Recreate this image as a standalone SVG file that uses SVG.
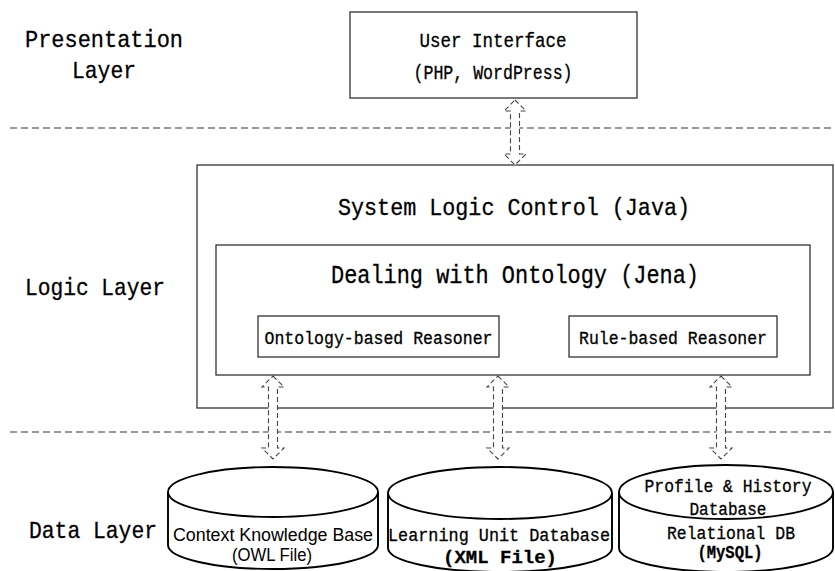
<svg xmlns="http://www.w3.org/2000/svg" width="835" height="571" viewBox="0 0 835 571">
<style>
.box{fill:#fff;stroke:#333;stroke-width:1.3}
.sep{stroke:#333;stroke-width:1.2;stroke-dasharray:7,4;fill:none}
.arr{fill:#fff;stroke:#444;stroke-width:1.1;stroke-dasharray:5,3}
.cyl{fill:#fff;stroke:#000;stroke-width:1.9}
.t{font-family:"Liberation Mono","DejaVu Sans Mono",monospace;fill:#000;stroke:#000;stroke-width:0.3;text-anchor:middle}
.s{font-family:"Liberation Sans",Arial,sans-serif;fill:#000;text-anchor:middle}
</style>
<rect width="835" height="571" fill="#fff"/>
<g id="separators">
<line class="sep" x1="10" y1="128" x2="835" y2="128"/>
<line class="sep" x1="10" y1="432" x2="835" y2="432"/>
</g>
<g id="layer-labels">
<text class="t" x="104" y="47" font-size="24" textLength="158" lengthAdjust="spacingAndGlyphs">Presentation</text>
<text class="t" x="104" y="78" font-size="24" textLength="64" lengthAdjust="spacingAndGlyphs">Layer</text>
<text class="t" x="95" y="295" font-size="24" textLength="140" lengthAdjust="spacingAndGlyphs">Logic Layer</text>
<text class="t" x="93" y="538" font-size="24" textLength="128" lengthAdjust="spacingAndGlyphs">Data Layer</text>
</g>
<g id="user-interface">
<rect class="box" x="350" y="12" width="287" height="86"/>
<text class="t" x="493" y="47" font-size="20" textLength="147" lengthAdjust="spacingAndGlyphs">User Interface</text>
<text class="t" x="493" y="79" font-size="20" textLength="159" lengthAdjust="spacingAndGlyphs">(PHP, WordPress)</text>
</g>
<g id="system-logic-control">
<rect class="box" x="197" y="165" width="636" height="243"/>
<text class="t" x="514" y="215" font-size="24" textLength="352" lengthAdjust="spacingAndGlyphs">System Logic Control (Java)</text>
</g>
<g id="dealing-with-ontology">
<rect class="box" x="216" y="245" width="594" height="130"/>
<text class="t" x="515" y="283" font-size="25" textLength="368" lengthAdjust="spacingAndGlyphs">Dealing with Ontology (Jena)</text>
</g>
<g id="ontology-reasoner">
<rect class="box" x="258" y="316" width="241" height="41"/>
<text class="t" x="378.5" y="344" font-size="18" textLength="228" lengthAdjust="spacingAndGlyphs">Ontology-based Reasoner</text>
</g>
<g id="rule-reasoner">
<rect class="box" x="569" y="316" width="208" height="41"/>
<text class="t" x="673" y="344" font-size="18" textLength="188" lengthAdjust="spacingAndGlyphs">Rule-based Reasoner</text>
</g>
<g id="context-kb">
<path class="cyl" d="M168,492 L168,545 A105,24 0 0 0 378,545 L378,492"/>
<ellipse class="cyl" cx="273" cy="492" rx="105" ry="25"/>
<text class="s" x="273" y="541" font-size="17.5" textLength="200" lengthAdjust="spacingAndGlyphs">Context Knowledge Base</text>
<text class="s" x="272" y="561" font-size="17.5" textLength="80" lengthAdjust="spacingAndGlyphs">(OWL File)</text>
</g>
<g id="learning-unit-db">
<path class="cyl" d="M388,493 L388,548 A112,24 0 0 0 612,548 L612,493"/>
<ellipse class="cyl" cx="500" cy="493" rx="112" ry="26"/>
<text class="t" x="499" y="541" font-size="19" textLength="222" lengthAdjust="spacingAndGlyphs">Learning Unit Database</text>
<text class="t" x="500" y="563" font-size="19" font-weight="bold" textLength="114" lengthAdjust="spacingAndGlyphs">(XML File)</text>
</g>
<g id="profile-history-db">
<path class="cyl" d="M619,492 L619,548 A107,24 0 0 0 833,548 L833,492"/>
<ellipse class="cyl" cx="726" cy="492" rx="107" ry="27"/>
<text class="t" x="728" y="492" font-size="18" textLength="167" lengthAdjust="spacingAndGlyphs">Profile &amp; History</text>
<text class="t" x="728" y="515" font-size="18" textLength="77" lengthAdjust="spacingAndGlyphs">Database</text>
<text class="t" x="731" y="539" font-size="18" textLength="128" lengthAdjust="spacingAndGlyphs">Relational DB</text>
<text class="t" x="730" y="558" font-size="18" font-weight="bold" textLength="65" lengthAdjust="spacingAndGlyphs">(MySQL)</text>
</g>
<g id="connectors">
<path class="arr" d="M515,100 L526,111 L519.5,111 L519.5,154 L526,154 L515,165 L504,154 L510.5,154 L510.5,111 L504,111 Z"/>
<path class="arr" d="M273,376 L284,387 L277.5,387 L277.5,448 L284,448 L273,459 L262,448 L268.5,448 L268.5,387 L262,387 Z"/>
<path class="arr" d="M498,376 L509,387 L502.5,387 L502.5,448 L509,448 L498,459 L487,448 L493.5,448 L493.5,387 L487,387 Z"/>
<path class="arr" d="M721,376 L732,387 L725.5,387 L725.5,448 L732,448 L721,459 L710,448 L716.5,448 L716.5,387 L710,387 Z"/>
</g>
</svg>
